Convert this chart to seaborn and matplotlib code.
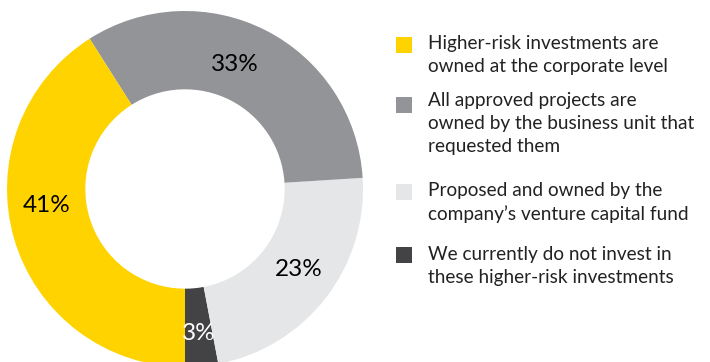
import matplotlib
matplotlib.use("Agg")
import matplotlib.pyplot as plt
from matplotlib.patches import Rectangle
import seaborn as sns

sns.set_theme(style="white")
plt.rcParams["font.family"] = ["Lato", "DejaVu Sans"]

# Share of respondents per ownership model (drawn counter-clockwise from 6 o'clock)
categories = [
    "We currently do not invest in\nthese higher-risk investments",
    "Proposed and owned by the\ncompany\u2019s venture capital fund",
    "All approved projects are\nowned by the business unit that\nrequested them",
    "Higher-risk investments are\nowned at the corporate level",
]
values = [3, 23, 33, 41]
colors = ["#434345", "#E5E6E8", "#939497", "#FFD300"]
label_colors = ["white", "black", "black", "black"]

# Legend is listed in the reverse order of the wedges
legend_order = [3, 2, 1, 0]

W, H = 710, 362
fig = plt.figure(figsize=(W / 100, H / 100), dpi=100)

cx, cy, R = 185, 189, 178
ax = fig.add_axes([(cx - R) / W, (H - cy - R) / H, 2 * R / W, 2 * R / H])

wedges, texts, autotexts = ax.pie(
    values,
    colors=colors,
    startangle=-90,
    counterclock=True,
    radius=1.0,
    wedgeprops=dict(width=0.44, linewidth=0),
    autopct=lambda p: f"{p:.0f}%",
    pctdistance=0.78,
    textprops=dict(fontsize=17.5),
)
ax.set_xlim(-1, 1)
ax.set_ylim(-1, 1)
ax.set_aspect("equal")
ax.axis("off")
for w in wedges:
    w.set_clip_on(False)
for t, c in zip(autotexts, label_colors):
    t.set_color(c)
    t.set_clip_on(False)

# nudge a few labels to sit where they read best inside the ring
autotexts[3].set_position((-0.78, -0.09))
autotexts[2].set_position((0.28, 0.70))
autotexts[1].set_position((0.64, -0.45))
autotexts[0].set_position((0.08, -0.81))

# Hand-built legend: square swatch aligned with the first line of each label
text_tops = [35, 92, 182, 246]
swatch_tops = [37, 97, 184, 247]
sq = 16
for top, stop, idx in zip(text_tops, swatch_tops, legend_order):
    fig.patches.append(
        Rectangle(
            (396 / W, 1 - (stop + sq) / H),
            sq / W,
            sq / H,
            transform=fig.transFigure,
            facecolor=colors[idx],
            edgecolor="none",
        )
    )
    fig.text(
        428 / W,
        1 - top / H,
        categories[idx],
        ha="left",
        va="top",
        fontsize=13.7,
        color="#222222",
        linespacing=1.42,
    )

fig.savefig("out.png", dpi=100, facecolor="white")
